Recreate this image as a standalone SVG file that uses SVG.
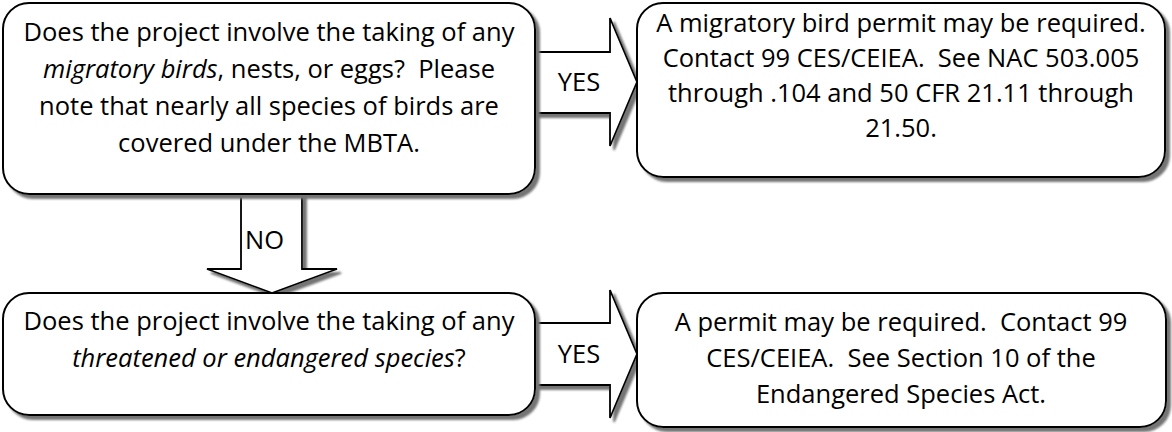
<svg xmlns="http://www.w3.org/2000/svg" width="1172" height="432" viewBox="0 0 1172 432">
<defs>
<filter id="sh" x="-5%" y="-5%" width="115%" height="120%">
<feGaussianBlur in="SourceAlpha" stdDeviation="1.2" result="b"/>
<feOffset in="b" dx="4" dy="4" result="o"/>
<feFlood flood-color="#747474"/>
<feComposite in2="o" operator="in" result="s"/>
<feMerge><feMergeNode in="s"/><feMergeNode in="SourceGraphic"/></feMerge>
</filter>
<style>
.box{fill:#fff;stroke:#000;stroke-width:2;filter:url(#sh)}
.arr{fill:#fff;stroke:#000;stroke-width:1.8;stroke-linejoin:miter;filter:url(#sh)}
text{font-family:"Open Sans","Liberation Sans",sans-serif;font-size:25.5px;fill:#000;white-space:pre}
.c{text-anchor:middle}
.i{font-style:italic}
</style>
</defs>
<g id="connectors">
<g id="yes1">
<path class="arr" d="M520,52 H610 V18 L637,82 L610,146 V113 H520 Z"/>
<text class="c" x="579" y="91">YES</text>
</g>
<g id="no1">
<path class="arr" d="M241,185 V269 H207 L272,293 L337,269 H302 V185 Z"/>
<text x="245" y="249">NO</text>
</g>
<g id="yes2">
<path class="arr" d="M520,323 H610 V290 L637,354 L610,418 V385 H520 Z"/>
<text class="c" x="579" y="363">YES</text>
</g>
</g>
<g id="q1">
<rect class="box" x="3" y="3" width="532" height="191" rx="26" ry="26"/>
<text class="c" x="269" y="41">Does the project involve the taking of any</text>
<text class="c" x="269" y="78"><tspan class="i">migratory birds</tspan>, nests, or eggs?  Please</text>
<text class="c" x="269" y="115">note that nearly all species of birds are</text>
<text class="c" x="269" y="152">covered under the MBTA.</text>
</g>
<g id="a1">
<rect class="box" x="637" y="3" width="528" height="174" rx="26" ry="26"/>
<text class="c" x="901" y="32">A migratory bird permit may be required.</text>
<text class="c" x="901" y="67">Contact 99 CES/CEIEA.  See NAC 503.005</text>
<text class="c" x="901" y="102">through .104 and 50 CFR 21.11 through</text>
<text class="c" x="901" y="137">21.50.</text>
</g>
<g id="q2">
<rect class="box" x="3" y="293" width="532" height="122" rx="26" ry="26"/>
<text class="c" x="269" y="330">Does the project involve the taking of any</text>
<text class="c" x="269" y="367"><tspan class="i">threatened or endangered species</tspan>?</text>
</g>
<g id="a2">
<rect class="box" x="637" y="293" width="529" height="134" rx="26" ry="26"/>
<text class="c" x="901" y="331">A permit may be required.  Contact 99</text>
<text class="c" x="901" y="367">CES/CEIEA.  See Section 10 of the</text>
<text class="c" x="901" y="403">Endangered Species Act.</text>
</g>
</svg>
